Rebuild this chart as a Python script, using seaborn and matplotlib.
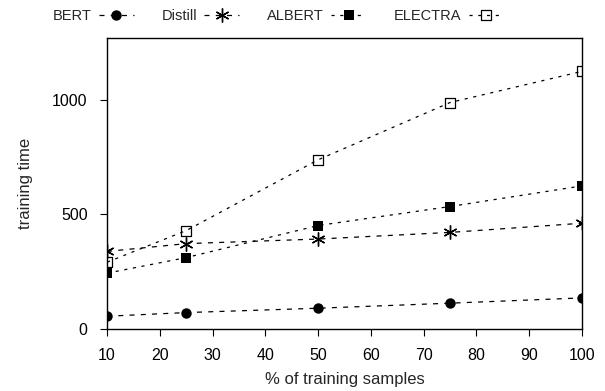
import numpy as np
import pandas as pd
import matplotlib
matplotlib.use("Agg")
import matplotlib.pyplot as plt
from matplotlib.path import Path
import seaborn as sns

# Datos
# ==============================================================================
pct = [10, 25, 50, 75, 100]
bert = [55, 71, 90, 112, 135]
distill = [338, 372, 392, 421, 461]
albert = [243, 311, 451, 534, 624]
electra = [291, 429, 738, 988, 1124]
modelos = ["BERT", "Distill", "ALBERT", "ELECTRA"]

datos = pd.DataFrame({
    "pct": pct * 4,
    "time": bert + distill + albert + electra,
    "model": [m for m in modelos for _ in pct],
})

# Estilo
# ==============================================================================
sns.set_theme(style="ticks")
plt.rcParams['font.family'] = ['Liberation Sans', 'DejaVu Sans']
plt.rcParams['font.size'] = 11

# cuadrado abierto con punto central (estilo gnuplot)
sq = [(-1, -1), (1, -1), (1, 1), (-1, 1), (-1, -1)]
dot = [(-0.08, -0.08), (0.08, -0.08), (0.08, 0.08), (-0.08, 0.08), (-0.08, -0.08)]
codes = [Path.MOVETO] + [Path.LINETO] * 3 + [Path.CLOSEPOLY]
boxdot = Path(sq + dot, codes + codes)

# seaborn no deja mezclar marcadores rellenos y de linea: se cambian despues
marcadores = {"BERT": "o", "Distill": "X", "ALBERT": "s", "ELECTRA": "D"}
marcadores_final = {"BERT": "o", "Distill": (6, 2, 0), "ALBERT": "s", "ELECTRA": boxdot}
guiones = {"BERT": (4, 5), "Distill": (4, 5), "ALBERT": (2.5, 4.5), "ELECTRA": (2.5, 4.5)}
paleta = {m: "black" for m in modelos}

fig = plt.figure(figsize=(6.05, 3.91), dpi=100)
ax = fig.add_axes([0.177, 0.159, 0.785, 0.744])

sns.lineplot(
    data=datos, x="pct", y="time",
    hue="model", style="model", hue_order=modelos, style_order=modelos,
    palette=paleta, markers=marcadores, dashes=guiones,
    linewidth=0.9, markersize=8, markeredgecolor="black",
    legend=False, ax=ax,
)

for line, m in zip(ax.lines, modelos):
    line.set_label(m)
    line.set_marker(marcadores_final[m])
    if m == "ELECTRA":
        line.set_markerfacecolor("none")
        line.set_markeredgewidth(0.9)
        line.set_markersize(7)
    elif m == "Distill":
        line.set_markersize(10)
        line.set_markeredgewidth(1.0)
    else:
        line.set_markeredgewidth(0)
        line.set_markersize(7.5)

ax.set_xlim(10, 100)
ax.set_ylim(0, 1270)
ax.set_xticks(range(10, 101, 10))
ax.set_yticks([0, 500, 1000])
ax.set_xlabel("% of training samples", fontsize=12, labelpad=6)
ax.set_ylabel("training time", fontsize=12, labelpad=14)
ax.tick_params(direction="out", length=5, width=0.8, colors="black",
               labelsize=11.5, pad=9)
for s in ax.spines.values():
    s.set_linewidth(1.0)
    s.set_color("black")

ax.legend(
    handles=ax.lines, labels=modelos, ncol=4, markerfirst=False,
    frameon=False, loc="lower center", bbox_to_anchor=(0.36, 1.0),
    handlelength=2.4, columnspacing=1.9, handletextpad=0.5,
    borderaxespad=0.6, fontsize=10.5,
)

plt.savefig("out.png", dpi=100)
